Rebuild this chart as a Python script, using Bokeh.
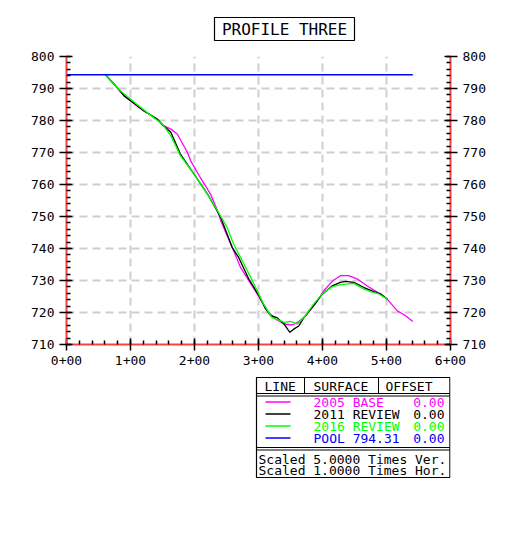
from bokeh.plotting import figure
from bokeh.models import Range1d, LinearAxis, SingleIntervalTicker, CustomJSTickFormatter
from bokeh.layouts import column
from bokeh.embed import file_html
from bokeh.resources import INLINE
from bokeh.core.properties import value

# ---------------- data ----------------
title_text = "PROFILE THREE"

base2005_sta = [61, 79, 90, 100, 121, 142, 150, 163, 173, 189, 194, 209, 225, 236, 241, 259, 272,
                288, 303, 314, 327, 340, 353, 361, 374, 390, 402, 416, 428, 441, 455, 470, 486,
                501, 517, 530, 541]
base2005_elev = [794.3, 790.3, 787.7, 786.2, 783.0, 780.4, 778.6, 777.3, 775.8, 770.0, 767.4, 762.2,
                 757.0, 751.8, 748.7, 740.3, 734.1, 728.9, 724.2, 720.5, 717.9, 716.4, 716.1, 716.9,
                 719.0, 723.1, 726.8, 729.9, 731.5, 731.5, 730.4, 728.3, 726.3, 724.2, 720.5, 719.0,
                 717.2]

review2011_sta = [61, 79, 90, 100, 121, 142, 150, 163, 178, 199, 222, 241, 259, 269, 285, 301, 311,
                  319, 329, 340, 349, 355, 363, 371, 386, 400, 415, 428, 436, 449, 465, 480, 491, 501]
review2011_elev = [794.3, 790.3, 787.7, 786.2, 783.0, 780.4, 778.7, 776.3, 769.5, 763.3, 756.5, 749.7,
                   740.3, 737.2, 730.4, 725.2, 721.1, 719.0, 718.4, 716.4, 713.8, 714.8, 715.8, 718.4,
                   722.1, 725.8, 728.3, 729.4, 729.7, 729.4, 727.8, 726.5, 725.8, 724.2]

review2016_sta = [61, 74, 84, 97, 116, 136, 150, 163, 178, 199, 220, 236, 251, 261, 272, 288, 298,
                  308, 321, 332, 340, 350, 361, 371, 386, 402, 415, 428, 449, 465, 475, 488, 501]
review2016_elev = [794.3, 791.4, 789.3, 787.2, 784.1, 780.9, 778.9, 775.2, 769.0, 763.3, 757.0, 751.8,
                   746.6, 741.4, 737.2, 730.9, 726.8, 722.6, 718.4, 717.6, 716.9, 717.2, 716.4, 718.4,
                   722.6, 726.3, 728.0, 728.7, 729.1, 727.3, 726.5, 725.8, 724.2]

pool_sta = [0, 541]
pool_elev = [794.31, 794.31]

series_names = ["2005 BASE", "2011 REVIEW", "2016 REVIEW", "POOL 794.31"]
series_colors = ["#ff00ff", "#000000", "#00ff00", "#0000ff"]
series_offsets = ["0.00", "0.00", "0.00", "0.00"]
header_cols = ["LINE", "SURFACE", "OFFSET"]
scale_notes = ["Scaled 5.0000 Times Ver.", "Scaled 1.0000 Times Hor."]

x_min, x_max = 0, 600
y_min, y_max = 710, 800

FONT = "DejaVu Sans Mono"
AXIS_RED = "#ff4040"
BL, BR = 66, 58          # left / right borders (page px)
FL, FR = 66, 450         # frame left / right (page px)

# ---------------- title strip ----------------
T = figure(frame_width=384, frame_height=48, x_range=Range1d(FL, FR), y_range=Range1d(48, 0),
           output_backend="svg", toolbar_location=None, x_axis_location=None,
           y_axis_location=None, min_border_left=BL, min_border_right=BR,
           min_border_top=0, min_border_bottom=0)
T.outline_line_color = None
T.grid.visible = False
T.quad(left=[214], right=[354], top=[17], bottom=[40], fill_color="white",
       line_color="black", line_width=1.2)
T.text(x=[284], y=[29], text=[title_text], text_font=value(FONT), text_font_size="16px",
       text_align="center", text_baseline="middle", text_color="black")

# ---------------- main profile ----------------
p = figure(frame_width=384, frame_height=288, x_range=Range1d(x_min, x_max),
           y_range=Range1d(y_min, y_max), output_backend="svg", toolbar_location=None,
           min_border_left=BL, min_border_right=BR, min_border_top=8, min_border_bottom=28)
p.outline_line_color = None

xt = SingleIntervalTicker(interval=100, num_minor_ticks=5)
yt = SingleIntervalTicker(interval=10, num_minor_ticks=5)
p.xaxis.ticker = xt
p.yaxis.ticker = yt
p.xaxis.formatter = CustomJSTickFormatter(
    code="var h=Math.floor(tick/100); var r=Math.round(tick-h*100); return h+'+'+(r<10?'0':'')+r;")

right_axis = LinearAxis(ticker=SingleIntervalTicker(interval=10, num_minor_ticks=5))
p.add_layout(right_axis, "right")

for ax in [p.xaxis[0], p.yaxis[0], right_axis]:
    ax.axis_line_color = AXIS_RED
    ax.axis_line_width = 2
    ax.major_tick_line_color = "black"
    ax.minor_tick_line_color = "black"
    ax.major_tick_line_width = 1.5
    ax.minor_tick_line_width = 1.5
    ax.major_tick_in = 6
    ax.major_tick_out = 7
    ax.minor_tick_in = 4
    ax.minor_tick_out = 0
    ax.major_label_text_font = FONT
    ax.major_label_text_font_size = "13px"
    ax.major_label_text_color = "black"
    ax.major_label_standoff = 5

p.xaxis[0].major_tick_out = 6

for g in [p.xgrid[0], p.ygrid[0]]:
    g.grid_line_color = "#cfcfcf"
    g.grid_line_width = 2
    g.grid_line_dash = "8 5"
p.xgrid.ticker = xt
p.ygrid.ticker = yt

p.line(base2005_sta, base2005_elev, line_color=series_colors[0], line_width=1.3)
p.line(review2011_sta, review2011_elev, line_color=series_colors[1], line_width=1.3)
p.line(review2016_sta, review2016_elev, line_color=series_colors[2], line_width=1.3)
p.line(pool_sta, pool_elev, line_color=series_colors[3], line_width=1.5)

# ---------------- legend table ----------------
L = figure(frame_width=384, frame_height=160, x_range=Range1d(FL, FR), y_range=Range1d(532, 372),
           output_backend="svg", toolbar_location=None, x_axis_location=None,
           y_axis_location=None, min_border_left=BL, min_border_right=BR,
           min_border_top=0, min_border_bottom=0)
L.outline_line_color = None
L.grid.visible = False

bx0, bx1, by0, by1 = 256, 449.4, 377, 477
L.quad(left=[bx0], right=[bx1], top=[by0], bottom=[by1], fill_color=None,
       line_color="black", line_width=1.2)
L.segment(x0=[bx0] * 4, x1=[bx1] * 4, y0=[393, 395.5, 447, 449.5], y1=[393, 395.5, 447, 449.5],
          line_color="black", line_width=1)
L.segment(x0=[304, 378], x1=[304, 378], y0=[by0, by0], y1=[393, 393], line_color="black", line_width=1)
L.text(x=[264, 313, 385], y=[385.5] * 3, text=header_cols, text_font=value(FONT),
       text_font_size="13px", text_baseline="middle", text_color="black")

row_y = [401.5, 413.5, 425.5, 437.5]
L.segment(x0=[265] * 4, x1=[290] * 4, y0=row_y, y1=row_y, line_color=series_colors, line_width=1.5)
L.text(x=[313] * 4, y=row_y, text=series_names, text_font=value(FONT), text_font_size="13px",
       text_baseline="middle", text_color=series_colors)
L.text(x=[444] * 4, y=row_y, text=series_offsets, text_font=value(FONT), text_font_size="13px",
       text_baseline="middle", text_align="right", text_color=series_colors)
L.text(x=[258, 258], y=[458.5, 469.5], text=scale_notes, text_font=value(FONT), text_font_size="13px",
       text_baseline="middle", text_color="black")

layout = column(T, p, L, spacing=0)
open("out.html", "w").write(file_html(layout, INLINE))
